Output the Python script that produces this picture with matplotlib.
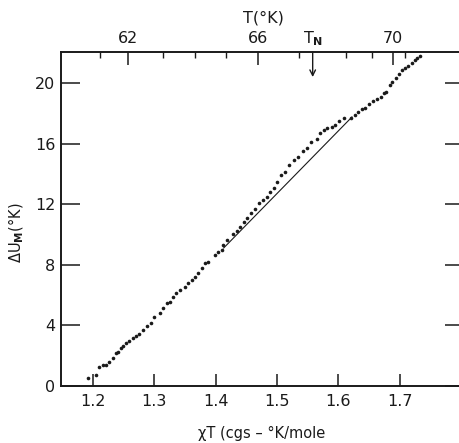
import matplotlib
matplotlib.use("Agg")
import matplotlib.pyplot as plt

# --- data ---
chiT = [1.192, 1.205, 1.210, 1.216, 1.222, 1.227, 1.232, 1.237, 1.241, 1.245,
        1.249, 1.254, 1.259, 1.265, 1.270, 1.275, 1.282, 1.288, 1.294, 1.300,
        1.309, 1.314, 1.321, 1.325, 1.331, 1.336, 1.342, 1.350, 1.355, 1.361,
        1.366, 1.371, 1.377, 1.382, 1.388, 1.399, 1.404, 1.410, 1.412, 1.418,
        1.428, 1.434, 1.439, 1.446, 1.451, 1.457, 1.464, 1.471, 1.477, 1.483,
        1.488, 1.495, 1.500, 1.507, 1.513, 1.520, 1.527, 1.534, 1.543, 1.549,
        1.555, 1.565, 1.570, 1.576, 1.582, 1.589, 1.594, 1.601, 1.609, 1.621,
        1.627, 1.632, 1.638, 1.643, 1.650, 1.657, 1.662, 1.669, 1.674, 1.678,
        1.684, 1.688, 1.693, 1.699, 1.704, 1.708, 1.714, 1.719, 1.724, 1.728,
        1.733]
dU = [0.51, 0.73, 1.27, 1.39, 1.39, 1.60, 1.83, 2.16, 2.26, 2.49,
      2.64, 2.86, 2.99, 3.15, 3.30, 3.41, 3.70, 3.96, 4.14, 4.53,
      4.80, 5.13, 5.50, 5.56, 5.85, 6.16, 6.34, 6.55, 6.82, 7.00,
      7.21, 7.44, 7.77, 8.10, 8.20, 8.65, 8.86, 8.98, 9.31, 9.64,
      10.01, 10.23, 10.51, 10.84, 11.07, 11.40, 11.68, 12.06, 12.28, 12.50,
      12.83, 13.05, 13.49, 13.93, 14.15, 14.59, 14.92, 15.14, 15.51, 15.69,
      16.09, 16.30, 16.68, 16.90, 17.01, 17.12, 17.23, 17.49, 17.67, 17.71,
      17.89, 18.11, 18.28, 18.37, 18.59, 18.81, 18.94, 19.10, 19.32, 19.43,
      19.87, 20.09, 20.31, 20.57, 20.86, 20.97, 21.14, 21.30, 21.52, 21.67,
      21.80]

line_x = [1.413, 1.622]
line_y = [9.11, 17.76]

x_ticks = [1.2, 1.3, 1.4, 1.5, 1.6, 1.7]
x_ticklabels = ["1.2", "1.3", "1.4", "1.5", "1.6", "1.7"]
y_ticks = [0, 4, 8, 12, 16, 20]
y_ticklabels = ["0", "4", "8", "12", "16", "20"]

top_major_pos = [1.257, 1.469, 1.689]
top_major_labels = ["62", "66", "70"]
top_minor_pos = [1.211, 1.314, 1.366, 1.417, 1.536, 1.612, 1.654, 1.708]
TN_pos = 1.558

plt.rcParams['font.family'] = ['DejaVu Sans']
ink = "#1a1a1a"

fig = plt.figure(figsize=(4.60, 4.43), dpi=100)
W, H = 460, 443
ax = fig.add_axes([61 / W, (H - 386) / H, 403 / W, 334 / H])
ax.set_xlim(1.148, 1.8045)
ax.set_ylim(0, 22.05)

ax.plot(chiT, dU, linestyle='none', marker='o', markersize=2.6,
        color=ink, markeredgewidth=0)
ax.plot(line_x, line_y, color=ink, linewidth=0.8)

for s in ax.spines.values():
    s.set_linewidth(1.2)
    s.set_color(ink)
ax.spines['right'].set_visible(False)

ax.set_xticks(x_ticks)
ax.set_xticklabels(x_ticklabels)
ax.set_yticks(y_ticks)
ax.set_yticklabels(y_ticklabels)
ax.tick_params(axis='x', direction='in', length=9, width=1.1, pad=6,
               labelsize=11.5, colors=ink)
ax.tick_params(axis='y', direction='in', length=14, width=1.1, pad=4,
               labelsize=11.5, colors=ink, right=True)

ax2 = ax.twiny()
ax2.set_xlim(ax.get_xlim())
ax2.set_xticks(top_major_pos)
ax2.set_xticklabels(top_major_labels)
ax2.set_xticks(top_minor_pos, minor=True)
ax2.tick_params(axis='x', which='major', direction='in', length=9, width=1.1,
                pad=4, labelsize=11.5, colors=ink)
ax2.tick_params(axis='x', which='minor', direction='in', length=4.5, width=1.0,
                colors=ink)
for s in ax2.spines.values():
    s.set_linewidth(1.2)
    s.set_color(ink)
ax2.spines['right'].set_visible(False)

# T_N marker with arrow
ax2.annotate('', xy=(TN_pos, 0.925), xycoords=('data', 'axes fraction'),
             xytext=(TN_pos, 1.0), textcoords=('data', 'axes fraction'),
             arrowprops=dict(arrowstyle='->', color=ink, lw=1.0,
                             mutation_scale=10, shrinkA=0, shrinkB=0))
ax2.text(TN_pos, 1.012, r'T$_{\mathbf{N}}$', ha='center', va='bottom',
         fontsize=11.5, color=ink, transform=ax2.get_xaxis_transform())

fig.text(263 / W, 1 - 18 / H, 'T(°K)', ha='center', va='center',
         fontsize=11.5, color=ink)
fig.text(262 / W, 1 - 433 / H, 'χT (cgs – °K/mole', ha='center',
         va='center', fontsize=10.5, color=ink)
fig.text(16 / W, 1 - 233 / H, r'ΔU$_{\mathbf{M}}$(°K)', ha='center',
         va='center', rotation=90, fontsize=10.5, color=ink)

fig.savefig('out.png', dpi=100)
